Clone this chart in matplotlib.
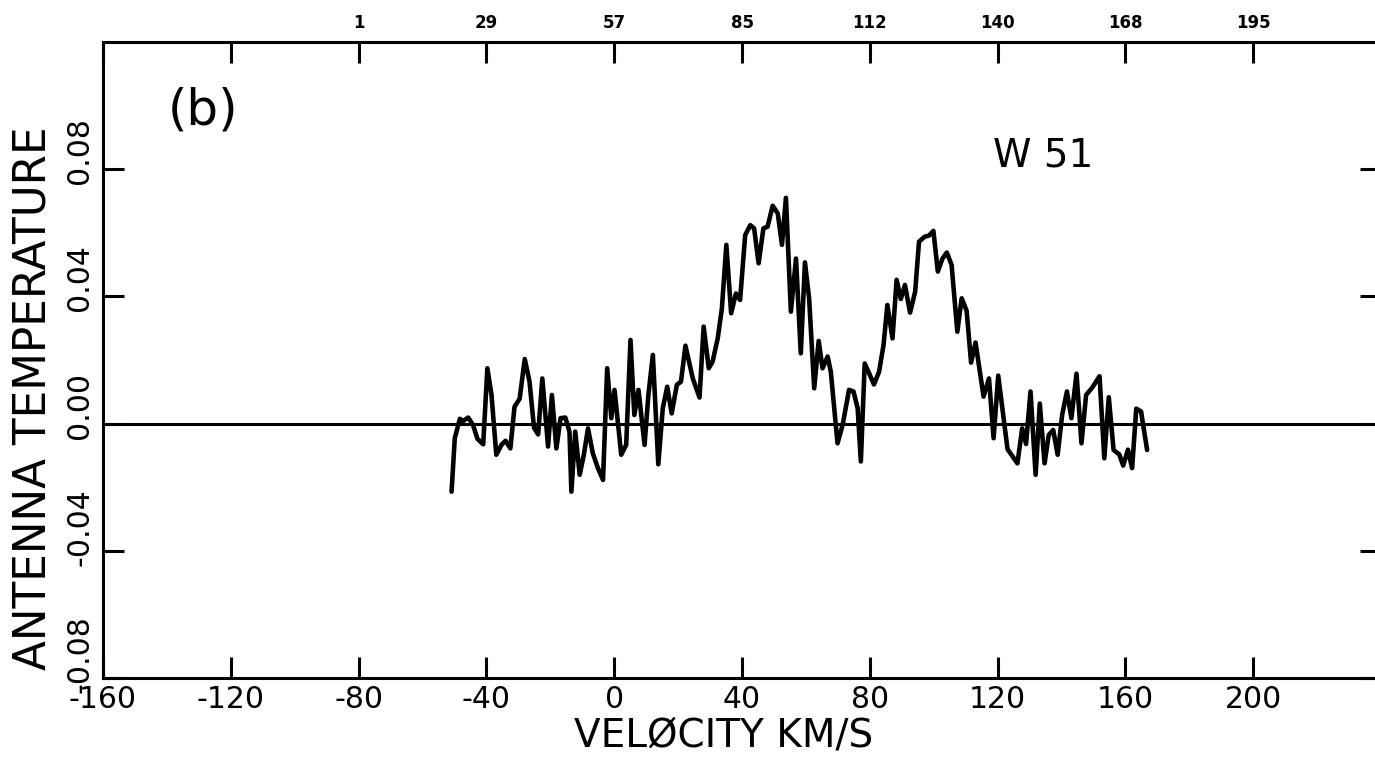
import matplotlib
matplotlib.use("Agg")
import matplotlib.pyplot as plt
from matplotlib.transforms import ScaledTranslation

# W 51 spectrum: LSR velocity (km/s) and antenna temperature (K)
velocity = [
    -50.9, -49.9, -48.3, -47.3, -45.7, -44.2, -42.8, -41.0, -39.7, -38.4,
    -36.9, -35.3, -34.0, -32.5, -31.2, -29.6, -28.0, -26.5, -25.1, -23.8,
    -22.5, -20.7, -19.5, -18.1, -16.8, -15.3, -14.0, -13.4, -12.2, -10.8,
    -9.5, -8.2, -6.7, -5.1, -3.5, -2.2, -0.9, 0.1, 2.2, 3.75,
    5.1, 6.3, 7.6, 9.5, 10.7, 12.1, 13.8, 15.2, 16.6, 18.0,
    19.6, 20.9, 22.3, 24.6, 26.7, 28.0, 29.6, 30.8, 32.4, 33.7,
    35.1, 36.6, 38.1, 39.4, 41.0, 42.6, 43.8, 45.2, 46.7, 48.0,
    49.6, 51.2, 52.5, 53.75, 55.3, 56.9, 58.4, 59.7, 61.0, 62.6,
    64.0, 65.2, 66.8, 67.8, 69.9, 71.5, 73.5, 74.9, 76.2, 77.2,
    78.4, 79.8, 81.3, 82.9, 84.3, 85.5, 87.1, 88.4, 89.7, 91.0,
    92.6, 94.2, 95.4, 97.2, 98.5, 99.9, 101.3, 102.7, 104.1, 105.6,
    107.4, 108.75, 110.3, 111.7, 113.1, 115.6, 117.3, 118.75, 120.2, 123.1,
    126.2, 127.7, 128.9, 130.3, 131.9, 133.2, 134.7, 136.0, 137.4, 138.8,
    140.2, 141.7, 143.1, 144.7, 146.25, 147.7, 149.6, 151.9, 153.4, 154.8,
    156.3, 158.1, 159.3, 160.8, 162.1, 163.4, 164.9, 166.8,
]
antenna_temp = [
    -0.0214, -0.0046, 0.0015, 0.0008, 0.0019, -0.0004, -0.0048, -0.0065, 0.0174, 0.0090,
    -0.0098, -0.0067, -0.0054, -0.0078, 0.0053, 0.0078, 0.0203, 0.0132, -0.0013, -0.0034,
    0.0142, -0.0072, 0.0090, -0.0078, 0.0017, 0.0019, -0.0025, -0.0214, -0.0025, -0.0161,
    -0.0098, -0.0015, -0.0093, -0.0140, -0.0177, 0.0174, 0.0017, 0.0106, -0.0098, -0.0067,
    0.0263, 0.0027, 0.0106, -0.0067, 0.0090, 0.0216, -0.0128, 0.0048, 0.0116, 0.0032,
    0.0122, 0.0132, 0.0245, 0.0142, 0.0082, 0.0305, 0.0174, 0.0195, 0.0268, 0.0362,
    0.0562, 0.0347, 0.0409, 0.0389, 0.0593, 0.0624, 0.0614, 0.0504, 0.0614, 0.0619,
    0.0685, 0.0661, 0.0562, 0.0710, 0.0352, 0.0519, 0.0221, 0.0507, 0.0394, 0.0111,
    0.0260, 0.0174, 0.0211, 0.0163, -0.0062, -0.0004, 0.0106, 0.0101, 0.0048, -0.0119,
    0.0189, 0.0158, 0.0123, 0.0163, 0.0247, 0.0373, 0.0268, 0.0452, 0.0392, 0.0436,
    0.0349, 0.0415, 0.0572, 0.0588, 0.0591, 0.0606, 0.0478, 0.0518, 0.0538, 0.0499,
    0.0289, 0.0394, 0.0355, 0.0192, 0.0255, 0.0085, 0.0142, -0.0046, 0.0151, -0.0080,
    -0.0125, -0.0015, -0.0064, 0.0101, -0.0161, 0.0063, -0.0125, -0.0036, -0.0020, -0.0098,
    0.0027, 0.0101, 0.0017, 0.0157, -0.0062, 0.0090, 0.0113, 0.0149, -0.0109, 0.0083,
    -0.0083, -0.0097, -0.0132, -0.0082, -0.0140, 0.0047, 0.0038, -0.0083,
]

# Axis ticks and labels
x_ticks = [-160, -120, -80, -40, 0, 40, 80, 120, 160, 200]
x_tick_labels = ["-160", "-120", "-80", "-40", "0", "40", "80", "120", "160", "200"]
y_ticks = [-0.08, -0.04, 0.00, 0.04, 0.08]
y_tick_labels = ["-0.08", "-0.04", "0.00", "0.04", "0.08"]
# Spectrometer channel numbers along the top axis
channel_velocity = [-80, -40, 0, 40, 80, 120, 160, 200]
channel_labels = ["1", "29", "57", "85", "112", "140", "168", "195"]

W, H = 1375, 757
fig = plt.figure(figsize=(W / 100, H / 100), dpi=100)
ax = fig.add_axes([103 / W, 79 / H, 1278 / W, 636 / H])
ax.set_xlim(-160, 240)
ax.set_ylim(-0.08, 0.12)

lw_axis = 2.2
for side in ("left", "bottom", "top", "right"):
    ax.spines[side].set_linewidth(lw_axis)

ax.axhline(0.0, color="black", lw=2.2, zorder=2)
ax.plot(velocity, antenna_temp, color="black", lw=3.3,
        solid_joinstyle="round", solid_capstyle="round", zorder=3)

ax.set_xticks(x_ticks, labels=x_tick_labels)
ax.set_yticks(y_ticks)
ax.tick_params(axis="both", direction="in", length=15, width=2.2,
               top=True, right=True, labelleft=False)
ax.tick_params(axis="x", labelsize=21.5, pad=5.3)

# Rotated y tick labels, reading upward from just below each tick
ylab_tf = ax.get_yaxis_transform() + ScaledTranslation(-0.23, -0.15, fig.dpi_scale_trans)
for yv, lab in zip(y_ticks, y_tick_labels):
    ax.text(0, yv, lab, transform=ylab_tf, rotation=90, ha="center", va="bottom",
            fontsize=21.5, clip_on=False)

# Channel axis on top
sec = ax.secondary_xaxis("top")
sec.set_xticks(channel_velocity, labels=channel_labels)
sec.tick_params(length=0, pad=7, labelsize=12)
sec.spines["top"].set_visible(False)
for lab in sec.get_xticklabels():
    lab.set_fontweight("bold")

fig.text(33 / W, 1 - 398 / H, "ANTENNA TEMPERATURE", rotation=90,
         ha="center", va="center", fontsize=31.5)
fig.text(724 / W, 1 - 747 / H, "VELØCITY KM/S", ha="center", va="baseline", fontsize=28)

ax.text(0.078, 0.893, "(b)", transform=ax.transAxes, ha="center", va="center", fontsize=36)
ax.text(0.7355, 0.8208, "W 51", transform=ax.transAxes, ha="center", va="center", fontsize=28)

fig.savefig("out.png", dpi=100)
